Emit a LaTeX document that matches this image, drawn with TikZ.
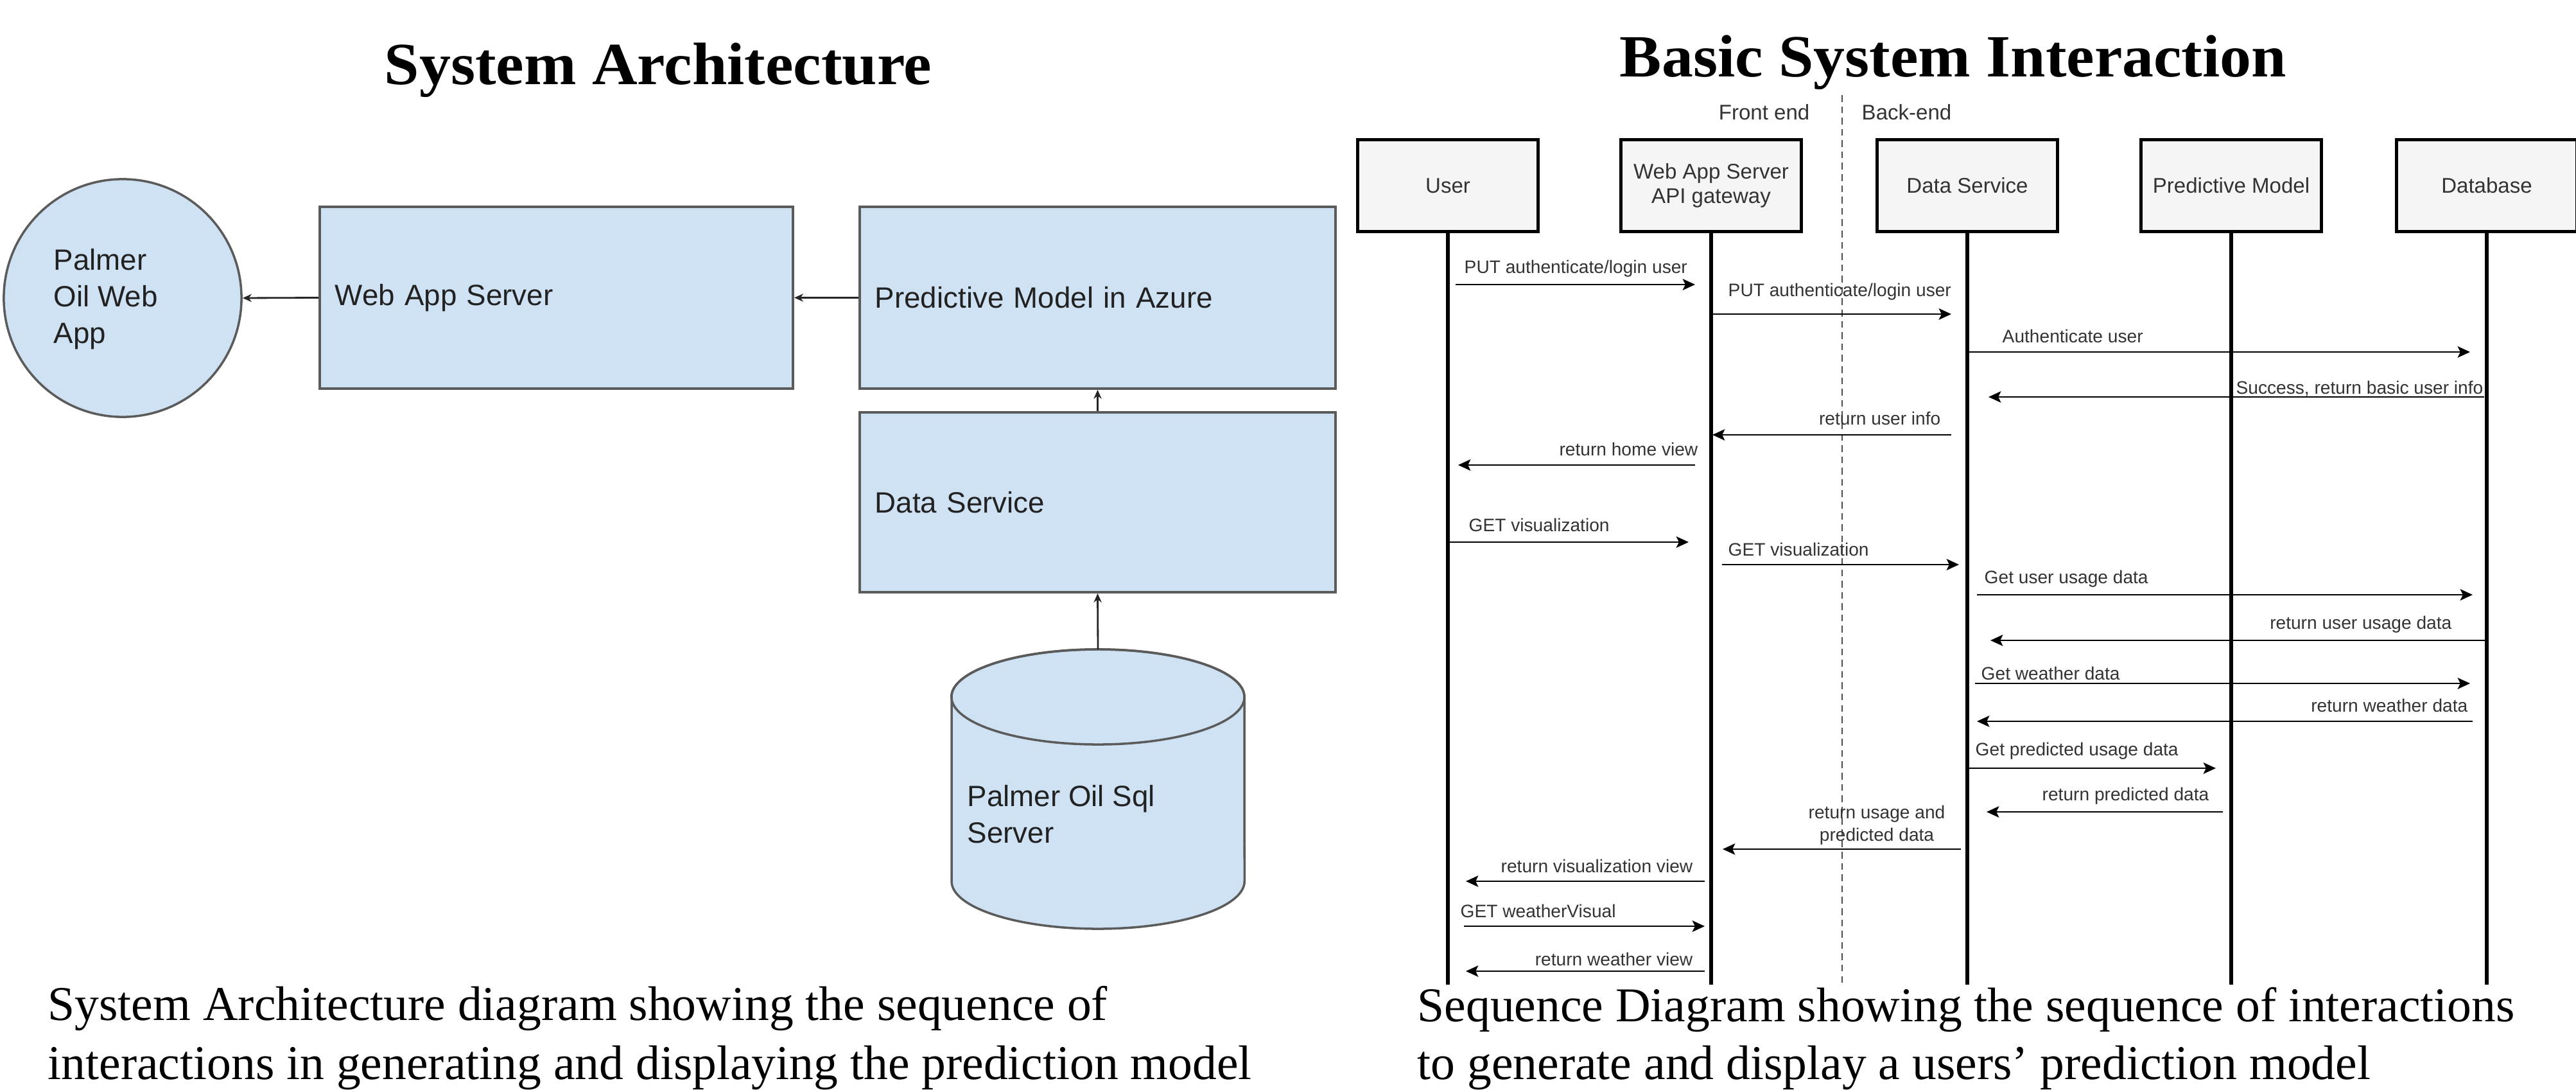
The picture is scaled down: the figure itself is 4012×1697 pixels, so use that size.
\documentclass[tikz,border=0pt]{standalone}
\usepackage{fontspec}
\setmainfont{Liberation Serif}
\newfontfamily\sansf{Liberation Sans}
\newfontfamily\capf{Liberation Serif}
\newfontfamily\titf[FakeStretch=1.05]{Liberation Serif}
\usetikzlibrary{arrows.meta,calc}
\definecolor{archfill}{HTML}{CFE2F3}
\definecolor{archline}{HTML}{5B5B5B}
\definecolor{seqfill}{HTML}{F5F5F5}
\definecolor{txtdark}{HTML}{222222}
\definecolor{seqtxt}{HTML}{333333}
\newcommand\seqmsg[5]{\draw[msg] ($(#2.south |- 0,#1)+(#3,0)$) -- ($(#4.south |- 0,#1)+(#5,0)$);}
\begin{document}
\begin{tikzpicture}[x=0.01cm,y=-0.01cm,
  archbox/.style={draw=archline, fill=archfill, line width=1pt, inner xsep=0.24cm, inner ysep=0pt,
    align=left, text=txtdark, font=\sansf\fontsize{13}{16.2}\selectfont},
  archtxt/.style={inner sep=0pt, align=left, text=txtdark, font=\sansf\fontsize{13}{16.2}\selectfont},
  archarrow/.style={draw=black!85, line width=0.8pt, -{Stealth[length=4pt,width=3.5pt]}},
  actor/.style={draw=black, fill=seqfill, line width=1.4pt, minimum width=2.81cm, minimum height=1.42cm,
    inner sep=1pt, align=center, text=seqtxt, font=\sansf\fontsize{9.4}{10.8}\selectfont},
  life/.style={line width=1.9pt, black},
  msg/.style={line width=0.7pt, black, -{Stealth[length=5.5pt,width=5pt,inset=1.2pt]}},
  lbl/.style={inner sep=0pt, text=seqtxt, font=\sansf\fontsize{8}{10}\selectfont},
  capt/.style={inner sep=0pt, font=\capf\fontsize{21.5}{25}\selectfont},
  titl/.style={inner sep=0pt, font=\titf\bfseries\fontsize{26.5}{30}\selectfont}
]
\useasboundingbox (0,0) rectangle (4012,1697);
\fill[white] (0,0) rectangle (4012,1697);

% ---------------- System Architecture ----------------
\node[titl, anchor=base] (titleL) at (1025,132) {System Architecture};

\node[circle, draw=archline, fill=archfill, line width=1pt, minimum size=3.70cm, inner sep=0pt] (app) at (191,464) {};
\node[archtxt, anchor=west] (apptxt) at (83,466) {Palmer\\Oil Web\\App};

\node[archbox, text width=6.89cm, minimum height=2.83cm] (web) at (866.5,463.5) {Web App Server};
\node[archbox, text width=6.93cm, minimum height=2.83cm] (pred) at (1709.5,463.5) {Predictive Model in Azure};
\node[archbox, text width=6.93cm, minimum height=2.80cm] (data) at (1709.5,782) {Data Service};

% cylinder (database)
\path[draw=archline, fill=archfill, line width=1pt]
  (1482,1085) -- (1482,1372) arc[start angle=180, end angle=360, x radius=2.28cm, y radius=0.74cm]
  -- (1938,1085) arc[start angle=0, end angle=180, x radius=2.28cm, y radius=0.74cm] -- cycle;
\draw[archline, line width=1pt] (1710,1085) ellipse [x radius=2.28cm, y radius=0.74cm];
\coordinate (sqltop) at (1710,1011);
\node[archtxt, anchor=west] (sqltxt) at (1506,1268) {Palmer Oil Sql\\Server};

\draw[archarrow] (web.west) -- (app.east);
\draw[archarrow] (pred.west) -- (web.east);
\draw[archarrow] (data.north) -- (pred.south);
\draw[archarrow] (sqltop) -- (data.south);

\node[capt, anchor=base west] (capL1) at (74,1588) {System Architecture diagram showing the sequence of};
\node[capt, anchor=base west] (capL2) at (74,1680) {interactions in generating and displaying the prediction model};

% ---------------- Basic System Interaction ----------------
\node[titl, anchor=base] (titleR) at (3042,120) {Basic System Interaction};

\coordinate (dashtop) at (2869,148);
\coordinate (bottom) at (0,1533);
\draw[black!70, line width=0.5pt, dash pattern=on 3pt off 2pt] (dashtop) -- (dashtop |- bottom);
\node[lbl, font=\sansf\fontsize{9.4}{10.8}\selectfont, anchor=east] (front) at (2819,175) {Front end};
\node[lbl, font=\sansf\fontsize{9.4}{10.8}\selectfont, anchor=west] (back) at (2899,175) {Back-end};

\node[actor] (user) at (2255,289) {User};
\node[actor] (wasrv) at (2665,289) {Web App Server\\API gateway};
\node[actor] (dsrv) at (3064,289) {Data Service};
\node[actor] (pmod) at (3475,289) {Predictive Model};
\node[actor] (db) at (3873,289) {Database};

\foreach \n in {user,wasrv,dsrv,pmod,db}{
  \draw[life] (\n.south) -- (\n.south |- bottom);
}

\seqmsg{443}{user}{12}{wasrv}{-25}
\seqmsg{489}{wasrv}{2}{dsrv}{-25}
\seqmsg{548}{dsrv}{3}{db}{-26}
\seqmsg{618}{db}{-4}{dsrv}{33}
\seqmsg{677}{dsrv}{-25}{wasrv}{2}
\seqmsg{724}{wasrv}{-25}{user}{16}
\seqmsg{844}{user}{3}{wasrv}{-35}
\seqmsg{879}{wasrv}{17}{dsrv}{-13}
\seqmsg{926}{dsrv}{15}{db}{-22}
\seqmsg{997}{db}{-1}{dsrv}{36}
\seqmsg{1064}{dsrv}{12}{db}{-26}
\seqmsg{1123}{db}{-22}{dsrv}{15}
\seqmsg{1196}{dsrv}{3}{pmod}{-24}
\seqmsg{1264}{pmod}{-13}{dsrv}{30}
\seqmsg{1322}{dsrv}{-10}{wasrv}{18}
\seqmsg{1372}{wasrv}{-10}{user}{28}
\seqmsg{1442}{user}{25}{wasrv}{-10}
\seqmsg{1512}{wasrv}{-10}{user}{28}

\node[lbl, anchor=west] (l1) at (2280,418) {PUT authenticate/login user};
\node[lbl, anchor=west] (l2) at (2691,454) {PUT authenticate/login user};
\node[lbl, anchor=west] (l3) at (3118,523) {Authenticate user};
\node[lbl, anchor=east] (l4) at (3868,605) {Success, return basic user info};
\node[lbl, anchor=east] (l5) at (3023,651) {return user info};
\node[lbl, anchor=east] (l6) at (2645,699) {return home view};
\node[lbl, anchor=west] (l7) at (2287,817) {GET visualization};
\node[lbl, anchor=west] (l8) at (2691,855) {GET visualization};
\node[lbl, anchor=west] (l9) at (3090,901) {Get user usage data};
\node[lbl, anchor=east] (l10) at (3819,972) {return user usage data};
\node[lbl, anchor=west] (l11) at (3085,1048) {Get weather data};
\node[lbl, anchor=east] (l12) at (3844,1098) {return weather data};
\node[lbl, anchor=west] (l13) at (3076,1169) {Get predicted usage data};
\node[lbl, anchor=east] (l14) at (3441,1239) {return predicted data};
\node[lbl, align=center] (l15) at (2923,1285) {return usage and\\predicted data};
\node[lbl, anchor=east] (l16) at (2637,1348) {return visualization view};
\node[lbl, anchor=west] (l17) at (2274,1418) {GET weatherVisual};
\node[lbl, anchor=east] (l18) at (2637,1493) {return weather view};

\node[capt, anchor=base west] (capR1) at (2207,1590) {Sequence Diagram showing the sequence of interactions};
\node[capt, anchor=base west] (capR2) at (2207,1680) {to generate and display a users’ prediction model};
\end{tikzpicture}
\end{document}
